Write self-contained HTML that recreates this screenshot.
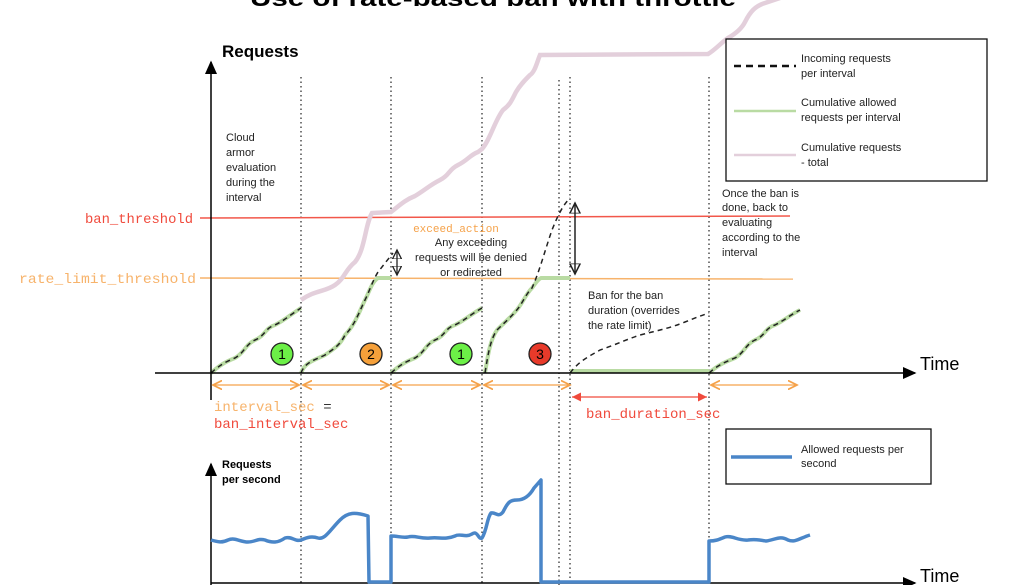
<!DOCTYPE html>
<html><head><meta charset="utf-8"><style>
html,body{margin:0;padding:0;background:#fff;}
svg{display:block;font-family:"Liberation Sans",sans-serif;}
.m{font-family:"Liberation Mono",monospace;}
</style></head><body>
<svg width="1024" height="585" viewBox="0 0 1024 585" xmlns="http://www.w3.org/2000/svg">
<defs>
<marker id="ab" markerWidth="10" markerHeight="10" refX="8" refY="5" orient="auto"><path d="M0,1 L9,5 L0,9 z" fill="#000"/></marker>
<marker id="ao" markerWidth="8" markerHeight="8" refX="7" refY="4" orient="auto-start-reverse"><path d="M0,0.5 L7,4 L0,7.5" fill="none" stroke="#f5a24a" stroke-width="1.3"/></marker>
<marker id="ar" markerWidth="8" markerHeight="8" refX="7" refY="4" orient="auto-start-reverse"><path d="M0,0.5 L7,4 L0,7.5 z" fill="#f04a3c"/></marker>
<marker id="ak" markerWidth="8" markerHeight="8" refX="7" refY="4" orient="auto-start-reverse"><path d="M0,0.5 L7,4 L0,7.5 z" fill="none" stroke="#222" stroke-width="1"/></marker>
</defs>
<text x="493" y="6" text-anchor="middle" font-size="23" font-weight="bold" textLength="486" lengthAdjust="spacingAndGlyphs">Use of rate-based ban with throttle</text>

<g stroke="#333" stroke-width="1.3" stroke-dasharray="1.5,3">
<line x1="301" y1="77" x2="301" y2="585"/><line x1="391" y1="77" x2="391" y2="585"/>
<line x1="482" y1="77" x2="482" y2="585"/><line x1="559" y1="80" x2="559" y2="585"/>
<line x1="570" y1="77" x2="570" y2="585"/><line x1="709" y1="77" x2="709" y2="585"/>
</g>

<line x1="200" y1="218" x2="790" y2="216" stroke="#f2574a" stroke-width="1.5"/>
<line x1="200" y1="278" x2="793" y2="279" stroke="#f7b36b" stroke-width="1.5"/>
<text x="85" y="223" class="m" font-size="14" fill="#f04a3c" textLength="108" lengthAdjust="spacingAndGlyphs">ban_threshold</text>
<text x="19" y="283" class="m" font-size="14" fill="#f7b36b" textLength="177" lengthAdjust="spacingAndGlyphs">rate_limit_threshold</text>

<path d="M301,300 C315,290 325,292 335,285 C345,278 345,270 355,262 C365,250 365,225 372,213 L391,212 C400,205 405,200 415,196 C425,190 430,185 440,180 C450,175 448,170 458,165 C468,160 470,155 478,152 L482,149 C490,140 495,120 503,110 C510,105 512,100 516,92 C520,85 525,80 530,75 C535,72 537,62 540,55 L708,54 C715,50 722,42 728,38 C735,34 742,28 745,22 C750,12 755,6 765,3 L780,-2" fill="none" stroke="#e3cfdb" stroke-width="4.5"/>

<g fill="none" stroke="#b9dba3" stroke-width="4">
<path d="M211,373 C220,365 225,362 235,358 C245,352 245,345 255,340 C265,336 265,328 275,325 C285,320 290,315 301,308"/>
<path d="M301,373 C305,362 315,360 325,355 C335,348 340,345 345,335 C355,325 360,310 365,300 C370,290 372,282 378,278 L391,278"/>
<path d="M391,373 C400,365 405,362 415,358 C425,352 425,345 435,340 C445,336 445,328 455,325 C465,320 470,315 482,308"/>
<path d="M485,373 C488,355 490,340 497,330 C505,322 510,318 515,312 C522,305 525,295 532,288 C536,283 537,280 541,278 L570,278"/>
<path d="M570,371 L709,371"/>
<path d="M709,373 C718,365 725,362 735,358 C745,352 745,345 755,340 C765,336 765,328 775,325 C785,320 790,315 800,310"/>
</g>
<g fill="none" stroke="#222" stroke-width="1.5" stroke-dasharray="5,4">
<path d="M211,373 C220,365 225,362 235,358 C245,352 245,345 255,340 C265,336 265,328 275,325 C285,320 290,315 301,308"/>
<path d="M301,373 C305,362 315,360 325,355 C335,348 340,345 345,335 C355,325 360,310 365,300 C370,290 372,282 378,272 L393,253"/>
<path d="M391,373 C400,365 405,362 415,358 C425,352 425,345 435,340 C445,336 445,328 455,325 C465,320 470,315 482,308"/>
<path d="M485,373 C488,355 490,340 497,330 C505,322 510,318 515,312 C522,305 525,295 532,288 C540,270 545,250 552,230 C558,215 563,205 570,198"/>
<path d="M570,373 C580,360 590,356 600,350 C615,345 625,340 640,335 C660,330 670,328 685,322 C695,318 700,316 709,313"/>
<path d="M709,373 C718,365 725,362 735,358 C745,352 745,345 755,340 C765,336 765,328 775,325 C785,320 790,315 800,310"/>
</g>
<line x1="397" y1="250" x2="397" y2="275" stroke="#222" stroke-width="1.3" marker-start="url(#ak)" marker-end="url(#ak)"/>
<line x1="575" y1="203" x2="575" y2="274" stroke="#222" stroke-width="1.5" marker-start="url(#ak)" marker-end="url(#ak)"/>

<line x1="211" y1="400" x2="211" y2="62" stroke="#000" stroke-width="1.5" marker-end="url(#ab)"/>
<line x1="155" y1="373" x2="915" y2="373" stroke="#000" stroke-width="1.5" marker-end="url(#ab)"/>
<text x="222" y="57" font-size="17" font-weight="bold">Requests</text>
<text x="920" y="370" font-size="18">Time</text>

<g stroke="#222" stroke-width="1.3" font-size="14" text-anchor="middle">
<circle cx="282" cy="354" r="11" fill="#6cf047"/><text x="282" y="359" stroke="none">1</text>
<circle cx="371" cy="354" r="11" fill="#f5a03a"/><text x="371" y="359" stroke="none">2</text>
<circle cx="461" cy="354" r="11" fill="#6cf047"/><text x="461" y="359" stroke="none">1</text>
<circle cx="540" cy="354" r="11" fill="#e83a2a"/><text x="540" y="359" stroke="none">3</text>
</g>

<g stroke="#f5a24a" stroke-width="1.3" marker-start="url(#ao)" marker-end="url(#ao)">
<line x1="213" y1="385" x2="299" y2="385"/><line x1="303" y1="385" x2="389" y2="385"/>
<line x1="393" y1="385" x2="480" y2="385"/><line x1="484" y1="385" x2="570" y2="385"/>
<line x1="711" y1="385" x2="797" y2="385"/>
</g>
<line x1="572" y1="397" x2="707" y2="397" stroke="#f04a3c" stroke-width="1.3" marker-start="url(#ar)" marker-end="url(#ar)"/>
<text x="214" y="411" class="m" font-size="14" fill="#f7b36b">interval_sec <tspan fill="#333">=</tspan></text>
<text x="214" y="428" class="m" font-size="14" fill="#f04a3c">ban_interval_sec</text>
<text x="586" y="418" class="m" font-size="14" fill="#f04a3c">ban_duration_sec</text>

<g font-size="11" fill="#222">
<text x="226" y="141">Cloud</text><text x="226" y="156">armor</text><text x="226" y="171">evaluation</text><text x="226" y="186">during the</text><text x="226" y="201">interval</text>
<text x="456" y="232" class="m" font-size="11" fill="#f5a24a" text-anchor="middle">exceed_action</text>
<text x="471" y="246" text-anchor="middle">Any exceeding</text><text x="471" y="261" text-anchor="middle">requests will be denied</text><text x="471" y="276" text-anchor="middle">or redirected</text>
<text x="588" y="299">Ban for the ban</text><text x="588" y="314">duration (overrides</text><text x="588" y="329">the rate limit)</text>
<text x="722" y="197">Once the ban is</text><text x="722" y="211">done, back to</text><text x="722" y="226">evaluating</text><text x="722" y="241">according to the</text><text x="722" y="256">interval</text>
</g>

<rect x="726" y="39" width="261" height="142" fill="#fff" stroke="#111" stroke-width="1.3"/>
<line x1="734" y1="66" x2="796" y2="66" stroke="#111" stroke-width="2.5" stroke-dasharray="7,5"/>
<line x1="734" y1="111" x2="796" y2="111" stroke="#b9dba3" stroke-width="2.5"/>
<line x1="734" y1="155" x2="796" y2="155" stroke="#e3cfdb" stroke-width="2.5"/>
<g font-size="11" fill="#222">
<text x="801" y="62">Incoming requests</text><text x="801" y="77">per interval</text>
<text x="801" y="106">Cumulative allowed</text><text x="801" y="121">requests per interval</text>
<text x="801" y="151">Cumulative requests</text><text x="801" y="166">- total</text>
</g>

<line x1="211" y1="585" x2="211" y2="464" stroke="#000" stroke-width="1.5" marker-end="url(#ab)"/>
<line x1="211" y1="583" x2="915" y2="583" stroke="#000" stroke-width="1.5" marker-end="url(#ab)"/>
<text x="920" y="582" font-size="18">Time</text>
<text x="222" y="468" font-size="11" font-weight="bold">Requests</text>
<text x="222" y="483" font-size="11" font-weight="bold">per second</text>
<rect x="726" y="429" width="205" height="55" fill="#fff" stroke="#111" stroke-width="1.3"/>
<line x1="731" y1="457" x2="792" y2="457" stroke="#4a86c8" stroke-width="3.5"/>
<text x="801" y="453" font-size="11" fill="#222">Allowed requests per</text>
<text x="801" y="467" font-size="11" fill="#222">second</text>
<path d="M211,540 C218,542 222,543 228,540 C235,537 240,542 248,542 C255,542 258,538 265,540 C272,543 278,543 285,538 C292,536 295,542 301,540 C308,537 312,536 318,538 C325,540 330,530 340,520 C348,512 355,512 368,516 L369,582 L391,582 L391,536 C398,536 402,538 408,537 C415,535 420,539 430,538 C440,537 445,540 455,536 C460,533 465,538 472,534 C478,530 478,540 482,538 C487,530 487,518 491,513 C496,512 498,518 503,512 C508,502 510,500 517,500 C525,500 530,495 534,488 L541,480 L541,582 L709,582 L709,541 C715,541 718,540 725,537 C732,535 738,541 748,540 C755,539 760,540 766,541 C775,540 780,535 788,540 C795,543 800,538 810,535" fill="none" stroke="#4a86c8" stroke-width="3.5" stroke-linejoin="round"/>
</svg>
</body></html>
